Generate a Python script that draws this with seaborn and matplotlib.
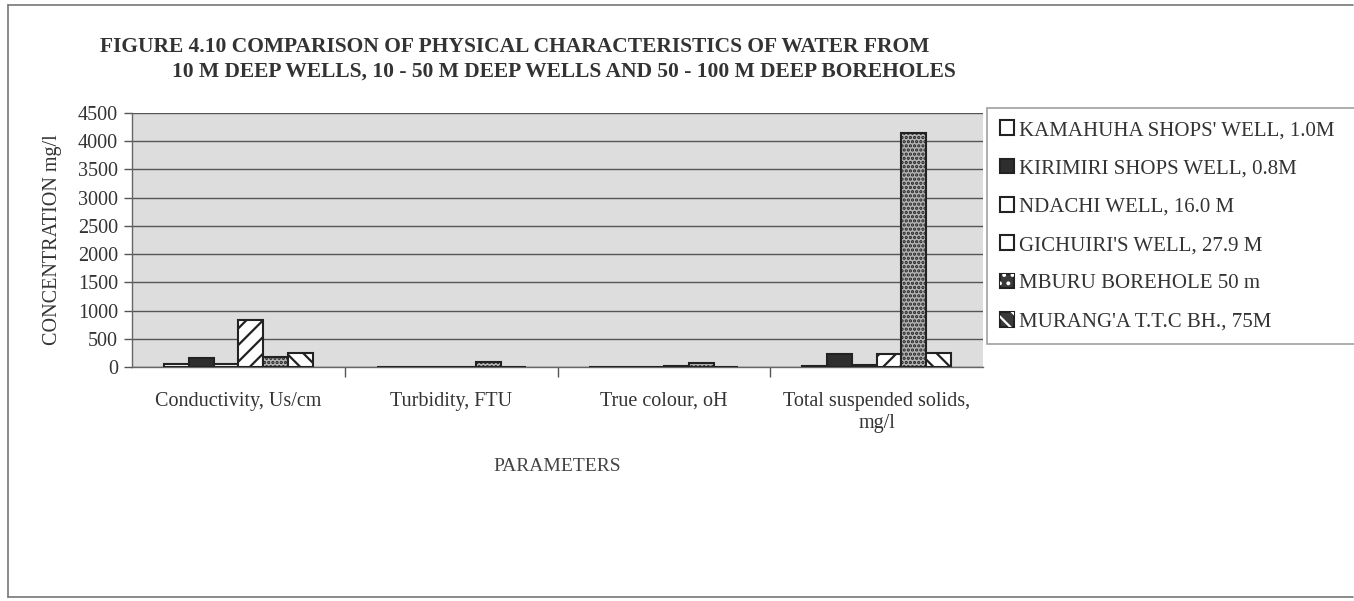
import matplotlib
matplotlib.use("Agg")
import matplotlib.pyplot as plt
import seaborn as sns
import pandas as pd
from matplotlib.patches import Patch
from matplotlib.lines import Line2D
from matplotlib.legend_handler import HandlerTuple

# ---- data ----
categories = ["Conductivity, Us/cm", "Turbidity, FTU", "True colour, oH",
              "Total suspended solids,\nmg/l"]
series_names = ["KAMAHUHA SHOPS' WELL, 1.0M", "KIRIMIRI SHOPS WELL, 0.8M",
                "NDACHI WELL, 16.0 M", "GICHUIRI'S WELL, 27.9 M",
                "MBURU BOREHOLE 50 m", "MURANG'A T.T.C BH., 75M"]
kamahuha = [62, 2, 5, 10]
kirimiri = [165, 3, 8, 225]
ndachi = [55, 2, 5, 40]
gichuiri = [840, 3, 10, 225]
mburu = [170, 80, 65, 4150]
muranga = [250, 4, 8, 245]
y_ticks = [0, 500, 1000, 1500, 2000, 2500, 3000, 3500, 4000, 4500]

values = [kamahuha, kirimiri, ndachi, gichuiri, mburu, muranga]
rows = []
for name, vals in zip(series_names, values):
    for cat, v in zip(categories, vals):
        rows.append({"parameter": cat, "well": name, "value": v})
df = pd.DataFrame(rows)

# ---- styling ----
sns.set_theme(style="white")
plt.rcParams["font.family"] = ["Liberation Serif", "DejaVu Serif"]
plt.rcParams["hatch.linewidth"] = 1.6

W, H = 1354, 601
fig = plt.figure(figsize=(W / 100, H / 100), dpi=100)
ax_l, ax_r, ax_t, ax_b = 132, 983, 113, 367
ax = fig.add_axes([ax_l / W, 1 - ax_b / H, (ax_r - ax_l) / W, (ax_b - ax_t) / H])

sns.barplot(data=df, x="parameter", y="value", hue="well", order=categories,
            hue_order=series_names, ax=ax, width=0.7, gap=0, legend=False,
            edgecolor="#222222", linewidth=1.5, saturation=1)

faces = ["white", "#2e2e2e", "white", "white", "#b4b4b4", "white"]
hatches = [None, None, None, "//", "....", "\\\\"]
for cont, fc, ht in zip(ax.containers, faces, hatches):
    for p in cont:
        p.set_facecolor(fc)
        p.set_edgecolor("#222222")
        if ht:
            p.set_hatch(ht)
        p.set_zorder(3)

ax.set_facecolor("#dddddd")
ax.set_ylim(0, 4500)
ax.set_xlim(-0.5, len(categories) - 0.5)
ax.set_yticks(y_ticks)
ax.set_yticklabels([str(t) for t in y_ticks], fontsize=14.5, color="#333333")
ax.yaxis.grid(True, color="#555555", linewidth=1.0)
ax.xaxis.grid(False)
ax.set_axisbelow(True)
ax.tick_params(axis="y", which="major", left=True, length=6, width=1, color="#555555", pad=4)
ax.tick_params(axis="x", which="major", bottom=False, labelsize=14.5, labelcolor="#333333", pad=12)
ax.set_xticks([i + 0.5 for i in range(len(categories) - 1)], minor=True)
ax.tick_params(axis="x", which="minor", bottom=True, length=7, width=1, color="#555555")
for s in ["top", "right"]:
    ax.spines[s].set_visible(False)
for s in ["left", "bottom"]:
    ax.spines[s].set_color("#666666")
    ax.spines[s].set_linewidth(1)

ax.set_xlabel("PARAMETERS", fontsize=14, color="#444444")
ax.xaxis.set_label_coords(0.5, -(458 - ax_b) / (ax_b - ax_t))
ax.set_ylabel("CONCENTRATION mg/l", fontsize=14.5, color="#333333")
ax.yaxis.set_label_coords(-(ax_l - 62) / (ax_r - ax_l), 0.5)

# ---- title ----
fig.text(100 / W, 1 - 47 / H,
         "FIGURE 4.10 COMPARISON OF PHYSICAL CHARACTERISTICS OF WATER FROM",
         fontsize=15.5, fontweight="bold", color="#333333", ha="left", va="center")
fig.text(172 / W, 1 - 72 / H,
         "10 M DEEP WELLS, 10 - 50 M DEEP WELLS AND 50 - 100 M DEEP BOREHOLES",
         fontsize=15.5, fontweight="bold", color="#333333", ha="left", va="center")

# ---- legend ----
def box(fc, ec="#222222"):
    return Patch(facecolor=fc, edgecolor=ec, linewidth=1.5)

def hatched(fc, ht):
    return (Patch(facecolor=fc, edgecolor="#222222", linewidth=1.5),
            Patch(facecolor="none", edgecolor="white", hatch=ht, linewidth=0))

handles = [box("white"), box("#2e2e2e"), box("white"), box("white"),
           hatched("#3a3a3a", ".."), hatched("#3a3a3a", "\\\\")]
leg_x0, leg_top, leg_bot, leg_x1 = 987, 108, 338, 1362
leg = fig.legend(handles, series_names, loc="upper left", mode="expand",
                 bbox_to_anchor=(leg_x0 / W, 1 - leg_bot / H,
                                 (leg_x1 - leg_x0) / W, (leg_bot - leg_top) / H),
                 bbox_transform=fig.transFigure,
                 handler_map={tuple: HandlerTuple(ndivide=1, pad=0)},
                 fontsize=15, frameon=True, fancybox=False, edgecolor="#888888",
                 handlelength=0.7, handleheight=0.7, handletextpad=0.25,
                 labelspacing=0.9, borderpad=0.6, borderaxespad=0)
leg.get_frame().set_linewidth(1.2)
for t in leg.get_texts():
    t.set_color("#333333")

# ---- outer border ----
bc = "#777777"
fig.add_artist(Line2D([8 / W, 8 / W], [1 - 5 / H, 1 - 597 / H], transform=fig.transFigure, color=bc, lw=1.2))
fig.add_artist(Line2D([8 / W, 1 - 1 / W], [1 - 5 / H, 1 - 5 / H], transform=fig.transFigure, color=bc, lw=1.2))
fig.add_artist(Line2D([8 / W, 1 - 1 / W], [1 - 597 / H, 1 - 597 / H], transform=fig.transFigure, color=bc, lw=1.2))

fig.savefig("out.png", dpi=100, facecolor="white")
